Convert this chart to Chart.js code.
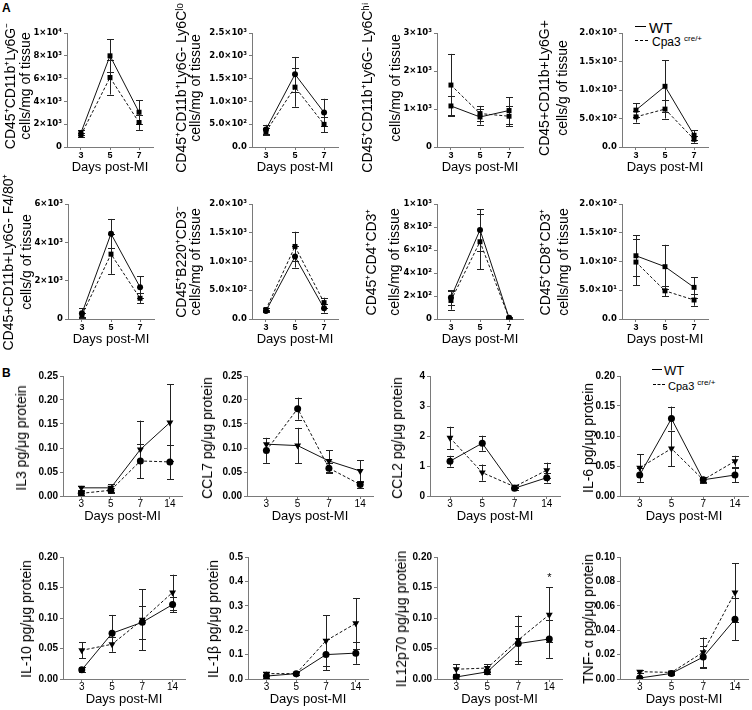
<!DOCTYPE html>
<html><head><meta charset="utf-8">
<script src="https://cdn.jsdelivr.net/npm/chart.js@4"></script>
<style>
body{margin:0;background:#fff;width:752px;height:710px;position:relative;overflow:hidden;font-family:'Liberation Sans',Arial,sans-serif;color:#000}
canvas{position:absolute}
.t{position:absolute;white-space:nowrap;line-height:1}
.yt{position:absolute;white-space:nowrap;line-height:1;font-weight:normal;transform:translate(-50%,-50%) rotate(-90deg)}
.ln{position:absolute;height:0;border-top:1.5px solid #000}
.ln.d{border-top-style:dashed}
</style></head><body>
<div class="t" style="left:2px;top:2px;font-weight:bold;font-size:12px">A</div>
<div class="t" style="left:2px;top:367px;font-weight:bold;font-size:12px">B</div>

<div class="ln" style="left:635px;top:26px;width:11px"></div>
<div class="t" style="left:649px;top:20px;font-size:15px">WT</div>
<div class="ln d" style="left:635px;top:40px;width:13px"></div>
<div class="t" style="left:652px;top:35px;font-size:12px">Cpa3 <sup style="font-size:8px">cre/+</sup></div>

<div class="ln" style="left:652px;top:369px;width:10px"></div>
<div class="t" style="left:664px;top:364px;font-size:13px">WT</div>
<div class="ln d" style="left:653px;top:384px;width:12px"></div>
<div class="t" style="left:668px;top:379px;font-size:11px">Cpa3 <sup style="font-size:8px">cre/+</sup></div>

<script>
// ---------- data ----------
const daysA = ['3','5','7'];
const daysB = ['3','5','7','14'];

// Panel A (cells)
const a1_title = ['CD45⁺CD11b⁺Ly6G⁻','cells/mg of tissue'];
const a1_ticks = ['0','2×10³','4×10³','6×10³','8×10³','1×10⁴'];
const a1_max = 10000;
const a1_wt = [1250, 8000, 3050], a1_wt_sd = [200, 1450, 1050];
const a1_ko = [1050, 6100, 2150], a1_ko_sd = [180, 1500, 650];

const a2_title = ['CD45⁺CD11b⁺Ly6G- Ly6Cˡᵒ','cells/mg of tissue'];
const a2_ticks = ['0.0','5.0×10²','1.0×10³','1.5×10³','2.0×10³','2.5×10³'];
const a2_max = 2500;
const a2_wt = [386, 1595, 757], a2_wt_sd = [100, 380, 300];
const a2_ko = [334, 1313, 497], a2_ko_sd = [80, 430, 170];

const a3_title = ['CD45⁺CD11b⁺Ly6G- Ly6Cʰⁱ','cells/mg of tissue'];
const a3_ticks = ['0','1×10³','2×10³','3×10³'];
const a3_max = 3000;
const a3_wt = [1080, 790, 960], a3_wt_sd = [250, 200, 350];
const a3_ko = [1630, 880, 810], a3_ko_sd = [820, 200, 260];

const a4_title = ['CD45+CD11b+Ly6G+','cells/g of tissue'];
const a4_ticks = ['0.0','5.0×10²','1.0×10³','1.5×10³','2.0×10³'];
const a4_max = 2000;
const a4_wt = [647, 1065, 206], a4_wt_sd = [120, 455, 90];
const a4_ko = [529, 665, 135], a4_ko_sd = [100, 165, 60];

const a5_title = ['CD45+CD11b+Ly6G- F4/80⁺','cells/g of tissue'];
const a5_ticks = ['0','2×10³','4×10³','6×10³'];
const a5_max = 6000;
const a5_wt = [300, 4450, 1660], a5_wt_sd = [250, 770, 560];
const a5_ko = [200, 3385, 1080], a5_ko_sd = [120, 1030, 260];

const a6_title = ['CD45⁺B220⁺CD3⁻','cells/mg of tissue'];
const a6_ticks = ['0.0','5.0×10²','1.0×10³','1.5×10³','2.0×10³'];
const a6_max = 2000;
const a6_wt = [140, 1085, 185], a6_wt_sd = [25, 190, 75];
const a6_ko = [165, 1262, 285], a6_ko_sd = [30, 255, 85];

const a7_title = ['CD45⁺CD4⁺CD3⁺','cells/mg of tissue'];
const a7_ticks = ['0','2×10²','4×10²','6×10²','8×10²','1×10³'];
const a7_max = 1000;
const a7_wt = [187, 775, 10], a7_wt_sd = [65, 180, 5];
const a7_ko = [161, 672, 8], a7_ko_sd = [80, 240, 5];

const a8_title = ['CD45⁺CD8⁺CD3⁺','cells/mg of tissue'];
const a8_ticks = ['0.0','5.0×10¹','1.0×10²','1.5×10²','2.0×10²'];
const a8_max = 200;
const a8_wt = [110, 91, 55], a8_wt_sd = [36, 38, 18];
const a8_ko = [99, 49, 33], a8_ko_sd = [40, 9, 10];

// Panel B (cytokines)
const b1_title = ['IL3 pg/μg protein'];
const b1_ticks = ['0.00','0.05','0.10','0.15','0.20','0.25'];
const b1_max = 0.25;
const b1_wt = [0.0055, 0.012, 0.073, 0.071], b1_wt_sd = [0.004, 0.005, 0.035, 0.036];
const b1_ko = [0.017, 0.017, 0.097, 0.153], b1_ko_sd = [0.004, 0.008, 0.06, 0.08];

const b2_title = ['CCL7 pg/μg protein'];
const b2_ticks = ['0.00','0.05','0.10','0.15','0.20','0.25'];
const b2_max = 0.25;
const b2_wt = [0.095, 0.182, 0.058, 0.024], b2_wt_sd = [0.026, 0.023, 0.01, 0.008];
const b2_ko = [0.108, 0.105, 0.073, 0.052], b2_ko_sd = [0.013, 0.037, 0.022, 0.023];

const b3_title = ['CCL2 pg/μg protein'];
const b3_ticks = ['0','1','2','3','4'];
const b3_max = 4;
const b3_wt = [1.16, 1.76, 0.26, 0.61], b3_wt_sd = [0.18, 0.25, 0.05, 0.16];
const b3_ko = [1.94, 0.78, 0.31, 0.86], b3_ko_sd = [0.37, 0.27, 0.05, 0.25];

const b4_title = ['IL-6 pg/μg protein'];
const b4_ticks = ['0.00','0.05','0.10','0.15','0.20'];
const b4_max = 0.20;
const b4_wt = [0.035, 0.129, 0.027, 0.035], b4_wt_sd = [0.011, 0.02, 0.005, 0.012];
const b4_ko = [0.047, 0.079, 0.027, 0.058], b4_ko_sd = [0.023, 0.029, 0.004, 0.009];

const b5_title = ['IL-10 pg/μg protein'];
const b5_ticks = ['0.00','0.05','0.10','0.15','0.20'];
const b5_max = 0.20;
const b5_wt = [0.015, 0.075, 0.093, 0.122], b5_wt_sd = [0.004, 0.03, 0.027, 0.012];
const b5_ko = [0.047, 0.057, 0.097, 0.142], b5_ko_sd = [0.013, 0.012, 0.05, 0.029];

const b6_title = ['IL-1β pg/μg protein'];
const b6_ticks = ['0.0','0.1','0.2','0.3','0.4','0.5'];
const b6_max = 0.5;
const b6_wt = [0.012, 0.022, 0.1, 0.106], b6_wt_sd = [0.006, 0.005, 0.063, 0.044];
const b6_ko = [0.022, 0.022, 0.157, 0.228], b6_ko_sd = [0.008, 0.005, 0.104, 0.104];

const b7_title = ['IL12p70 pg/μg protein'];
const b7_ticks = ['0.00','0.05','0.10','0.15','0.20'];
const b7_max = 0.20;
const b7_wt = [0.0033, 0.0117, 0.058, 0.0656], b7_wt_sd = [0.003, 0.004, 0.029, 0.031];
const b7_ko = [0.016, 0.018, 0.064, 0.1055], b7_ko_sd = [0.008, 0.006, 0.04, 0.045];
const b7_star = {day: 3, value: 0.166, text: '*'};

const b8_title = ['TNF- α pg/μg protein'];
const b8_ticks = ['0.00','0.02','0.04','0.06','0.08','0.10'];
const b8_max = 0.10;
const b8_wt = [0.0008, 0.0046, 0.018, 0.049], b8_wt_sd = [0.001, 0.001, 0.009, 0.017];
const b8_ko = [0.006, 0.0054, 0.022, 0.071], b8_ko_sd = [0.001, 0.001, 0.012, 0.024];

// ---------- chart specs built from the arrays ----------
const specs = [
  {days:daysA, title:a1_title, ticks:a1_ticks, max:a1_max, wt:a1_wt, wtE:a1_wt_sd, ko:a1_ko, koE:a1_ko_sd},
  {days:daysA, title:a2_title, ticks:a2_ticks, max:a2_max, wt:a2_wt, wtE:a2_wt_sd, ko:a2_ko, koE:a2_ko_sd},
  {days:daysA, title:a3_title, ticks:a3_ticks, max:a3_max, wt:a3_wt, wtE:a3_wt_sd, ko:a3_ko, koE:a3_ko_sd},
  {days:daysA, title:a4_title, ticks:a4_ticks, max:a4_max, wt:a4_wt, wtE:a4_wt_sd, ko:a4_ko, koE:a4_ko_sd},
  {days:daysA, title:a5_title, ticks:a5_ticks, max:a5_max, wt:a5_wt, wtE:a5_wt_sd, ko:a5_ko, koE:a5_ko_sd},
  {days:daysA, title:a6_title, ticks:a6_ticks, max:a6_max, wt:a6_wt, wtE:a6_wt_sd, ko:a6_ko, koE:a6_ko_sd},
  {days:daysA, title:a7_title, ticks:a7_ticks, max:a7_max, wt:a7_wt, wtE:a7_wt_sd, ko:a7_ko, koE:a7_ko_sd},
  {days:daysA, title:a8_title, ticks:a8_ticks, max:a8_max, wt:a8_wt, wtE:a8_wt_sd, ko:a8_ko, koE:a8_ko_sd},
  {days:daysB, title:b1_title, ticks:b1_ticks, max:b1_max, wt:b1_wt, wtE:b1_wt_sd, ko:b1_ko, koE:b1_ko_sd},
  {days:daysB, title:b2_title, ticks:b2_ticks, max:b2_max, wt:b2_wt, wtE:b2_wt_sd, ko:b2_ko, koE:b2_ko_sd},
  {days:daysB, title:b3_title, ticks:b3_ticks, max:b3_max, wt:b3_wt, wtE:b3_wt_sd, ko:b3_ko, koE:b3_ko_sd},
  {days:daysB, title:b4_title, ticks:b4_ticks, max:b4_max, wt:b4_wt, wtE:b4_wt_sd, ko:b4_ko, koE:b4_ko_sd},
  {days:daysB, title:b5_title, ticks:b5_ticks, max:b5_max, wt:b5_wt, wtE:b5_wt_sd, ko:b5_ko, koE:b5_ko_sd},
  {days:daysB, title:b6_title, ticks:b6_ticks, max:b6_max, wt:b6_wt, wtE:b6_wt_sd, ko:b6_ko, koE:b6_ko_sd},
  {days:daysB, title:b7_title, ticks:b7_ticks, max:b7_max, wt:b7_wt, wtE:b7_wt_sd, ko:b7_ko, koE:b7_ko_sd, star:b7_star},
  {days:daysB, title:b8_title, ticks:b8_ticks, max:b8_max, wt:b8_wt, wtE:b8_wt_sd, ko:b8_ko, koE:b8_ko_sd}
];

// ---------- layout (page px) ----------
// L,R: plot left/right; T,B: plot top/bottom; W: y-axis box width; tx: y-title line centres; ty: y-title centre
const layout = [
  {L:67,R:153,T:33,B:147,W:65,tx:[10,25],ty:86},{L:252,R:338,T:33,B:147,W:79,tx:[181,195],ty:88},
  {L:437,R:523,T:33,B:147,W:73,tx:[367,395],ty:88},{L:622,R:708,T:33,B:147,W:85,tx:[544,562],ty:88},
  {L:68,R:154,T:204,B:319,W:68,tx:[8,26],ty:262},{L:252,R:338,T:204,B:319,W:79,tx:[181,195],ty:262},
  {L:437,R:523,T:204,B:319,W:78,tx:[371,394],ty:262},{L:622,R:708,T:204,B:319,W:85,tx:[545,563],ty:262},
  {L:63,R:182,T:376,B:496,W:50,tx:[21],ty:438},{L:247,R:373,T:376,B:496,W:48,tx:[207],ty:438},
  {L:430,R:560,T:376,B:496,W:41,tx:[397],ty:438},{L:620,R:748,T:376,B:496,W:40,tx:[588],ty:438},
  {L:63,R:185,T:557,B:679,W:45,tx:[26],ty:619},{L:248,R:368,T:557,B:679,W:43,tx:[213],ty:619},
  {L:437,R:562,T:557,B:679,W:44,tx:[401],ty:619},{L:620,R:748,T:557,B:679,W:40,tx:[588],ty:619}
];
// marker / line style per chart: [wtPoint, koPoint, wtDashed, koDashed]
const styles = [
  ['rect','rect',false,true],['circle','rect',false,true],['rect','rect',false,true],['rect','rect',false,true],
  ['circle','rect',false,true],['circle','rect',false,true],['circle','rect',false,true],['rect','rect',false,true],
  ['circle','triangle',true,false],['circle','triangle',true,false],['circle','triangle',false,true],['circle','triangle',false,true],
  ['circle','triangle',false,true],['circle','triangle',false,true],['circle','triangle',false,true],['circle','triangle',false,true]
];

const PAD_TOP = 10, PAD_RIGHT = 8, X_H = 28;
const AX = '#7a7a7a';
const FONT = "'Liberation Sans', Arial, Helvetica, sans-serif";
const FONT_WIDE = "'DejaVu Sans', Verdana, sans-serif";

const errorBars = {
  id: 'errorBars',
  beforeDatasetsDraw(chart) {
    const {ctx, chartArea, scales: {x, y}} = chart;
    ctx.save();
    ctx.strokeStyle = '#222';
    ctx.lineWidth = 1;
    chart.data.datasets.forEach(ds => {
      ds.data.forEach((p, i) => {
        const e = ds.err[i];
        if (!e) return;
        const px = Math.round(x.getPixelForValue(p.x)) + 0.5;
        const hi = y.getPixelForValue(p.y + e);
        const lo = Math.min(chartArea.bottom, y.getPixelForValue(p.y - e));
        ctx.beginPath();
        ctx.moveTo(px, hi); ctx.lineTo(px, lo);
        ctx.moveTo(px - 3.5, Math.round(hi) + 0.5); ctx.lineTo(px + 3.5, Math.round(hi) + 0.5);
        if (lo < chartArea.bottom) { ctx.moveTo(px - 3.5, Math.round(lo) + 0.5); ctx.lineTo(px + 3.5, Math.round(lo) + 0.5); }
        ctx.stroke();
      });
    });
    ctx.restore();
  }
};
const starMark = {
  id: 'starMark',
  afterDatasetsDraw(chart, args, opts) {
    const s = opts.star;
    if (!s) return;
    const {ctx, scales: {x, y}} = chart;
    ctx.save();
    ctx.fillStyle = '#000';
    ctx.font = '11px ' + FONT;
    ctx.textAlign = 'center';
    ctx.textBaseline = 'middle';
    ctx.fillText(s.text, x.getPixelForValue(s.day), y.getPixelForValue(s.value));
    ctx.restore();
  }
};

function ds(label, vals, errs, pt, dashed, isA) {
  const tri = pt === 'triangle';
  return {
    label,
    data: vals.map((v, i) => ({x: i, y: v})),
    err: errs,
    borderColor: '#111',
    borderWidth: 1,
    borderDash: dashed ? [3, 2] : [],
    pointStyle: pt,
    pointRotation: tri ? 180 : 0,
    pointRadius: pt === 'rect' ? 3.5 : (tri ? 4 : (isA ? 3 : 3.5)),
    pointBackgroundColor: '#000',
    pointBorderColor: '#000',
    pointBorderWidth: 0,
    tension: 0,
    fill: false
  };
}

specs.forEach((sp, k) => {
  const lay = layout[k], st = styles[k];
  const isA = sp.days.length === 3;
  const cx = lay.L - lay.W, cy = lay.T - PAD_TOP;
  const cw = lay.R - cx + PAD_RIGHT, ch = lay.B + X_H - cy;
  const cv = document.createElement('canvas');
  cv.width = cw; cv.height = ch;
  cv.style.left = cx + 'px'; cv.style.top = cy + 'px';
  cv.style.width = cw + 'px'; cv.style.height = ch + 'px';
  document.body.appendChild(cv);

  // rotated y-axis title (real text)
  sp.title.forEach((line, j) => {
    const d = document.createElement('div');
    d.className = 'yt';
    d.textContent = line;
    d.style.left = lay.tx[j] + 'px';
    d.style.top = lay.ty + 'px';
    d.style.fontSize = '14px';
    document.body.appendChild(d);
  });

  const step = sp.max / (sp.ticks.length - 1);
  const xMin = isA ? -0.48 : -0.62, xMax = isA ? 2.48 : 3.41;
  new Chart(cv, {
    type: 'line',
    data: {datasets: [
      ds('WT', sp.wt, sp.wtE, st[0], st[2], isA),
      ds('Cpa3 cre/+', sp.ko, sp.koE, st[1], st[3], isA)
    ]},
    options: {
      responsive: false, animation: false, events: [],
      layout: {padding: {top: PAD_TOP, right: PAD_RIGHT, left: 0, bottom: 0}},
      plugins: {legend: {display: false}, tooltip: {enabled: false}, starMark: {star: sp.star || null}},
      scales: {
        x: {
          type: 'linear', min: xMin, max: xMax,
          afterBuildTicks: s => { s.ticks = sp.days.map((d, i) => ({value: i})); },
          afterFit: s => { s.height = X_H; },
          ticks: {callback: v => sp.days[Math.round(v)], color: '#000', maxRotation: 0, autoSkip: false,
                  padding: isA ? 0 : -1, font: {family: FONT, size: isA ? 9 : 10, weight: isA ? 'bold' : 'normal'}},
          grid: {display: true, drawOnChartArea: false, drawTicks: true, tickLength: 3, color: AX},
          border: {display: true, color: AX, width: 1},
          title: {display: true, text: 'Days post-MI', color: '#000', padding: 0,
                  font: {family: FONT, size: 13, lineHeight: 1.2}}
        },
        y: {
          min: 0, max: sp.max,
          afterBuildTicks: s => { s.ticks = sp.ticks.map((t, i) => ({value: i * step})); },
          afterFit: s => { s.width = lay.W; },
          ticks: {callback: (v, i) => sp.ticks[i], color: '#000', padding: 2,
                  font: isA ? {family: FONT_WIDE, size: 8.5, weight: 'bold'} : {family: FONT, size: 10, weight: 'bold'}},
          grid: {display: true, drawOnChartArea: false, drawTicks: true, tickLength: 3, color: AX},
          border: {display: true, color: AX, width: 1},
          title: {display: false}
        }
      }
    },
    plugins: [errorBars, starMark]
  });
});
</script>
</body></html>
